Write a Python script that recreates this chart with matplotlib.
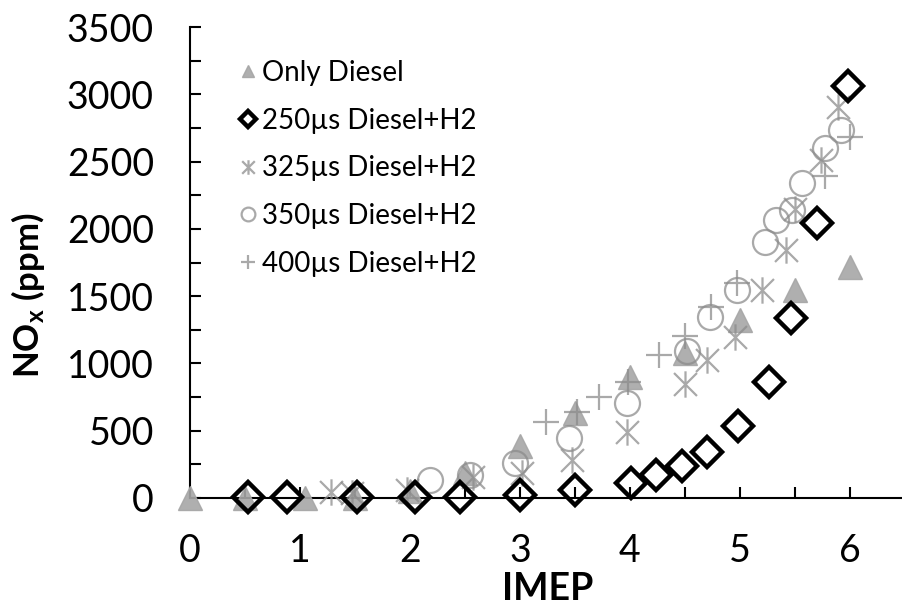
import matplotlib.pyplot as plt
from matplotlib.path import Path
from matplotlib.ticker import MultipleLocator

plt.rcParams['font.family'] = ['Lato', 'DejaVu Sans']
plt.rcParams['mathtext.fontset'] = 'custom'
plt.rcParams['mathtext.rm'] = 'Lato'
plt.rcParams['mathtext.bf'] = 'Lato:bold'

# Only Diesel
diesel_x = [0.0, 0.5, 1.05, 1.5, 2.0, 2.5, 3.0, 3.5, 4.0, 4.5, 5.0, 5.5, 6.0]
diesel_y = [0, 0, 0, 0, 50, 185, 385, 630, 900, 1075, 1325, 1545, 1715]

# 250us Diesel+H2
d250_x = [0.53, 0.88, 1.52, 2.05, 2.45, 3.0, 3.5, 4.01, 4.24, 4.47, 4.70, 4.98, 5.26, 5.46, 5.70, 5.98]
d250_y = [5, 5, 5, 5, 5, 20, 60, 110, 170, 235, 340, 535, 865, 1340, 2040, 3060]

# 325us Diesel+H2
d325_x = [1.28, 1.47, 1.97, 2.57, 3.02, 3.47, 3.97, 4.5, 4.70, 4.95, 5.20, 5.42, 5.5, 5.74, 5.89]
d325_y = [45, 40, 60, 157, 183, 282, 493, 845, 1025, 1195, 1545, 1840, 2150, 2510, 2905]

# 350us Diesel+H2
d350_x = [2.18, 2.55, 2.95, 3.45, 3.97, 4.52, 4.73, 4.97, 5.23, 5.33, 5.47, 5.56, 5.77, 5.92]
d350_y = [135, 170, 260, 445, 705, 1095, 1345, 1545, 1905, 2065, 2140, 2340, 2600, 2735]

# 400us Diesel+H2
d400_x = [3.24, 3.52, 3.72, 3.98, 4.26, 4.5, 4.74, 4.97, 5.77, 6.0]
d400_y = [567, 640, 750, 865, 1065, 1205, 1420, 1595, 2390, 2685]

# asterisk marker: X plus a vertical bar
asterisk = Path([(-1, -1), (1, 1), (-1, 1), (1, -1), (0, -1.15), (0, 1.15)],
                [Path.MOVETO, Path.LINETO, Path.MOVETO, Path.LINETO, Path.MOVETO, Path.LINETO])

gray = '#8c8c8c'

fig = plt.figure(figsize=(9.03, 6.04), dpi=100)
ax = fig.add_axes([190 / 903, 1 - 498 / 604, 715 / 903, 471 / 604])

ax.plot(diesel_x, diesel_y, ls='none', marker='^', ms=17, mfc='#a6a6a6', mec='#a6a6a6',
        alpha=0.9, clip_on=False, zorder=3, label='Only Diesel')
ax.plot(d250_x, d250_y, ls='none', marker='D', ms=15, mfc='none', mec='black', mew=3.2,
        clip_on=False, zorder=6, label='250µs Diesel+H2')
ax.plot(d325_x, d325_y, ls='none', marker=asterisk, ms=19, mfc='none', mec=gray, mew=1.6,
        alpha=0.75, clip_on=False, zorder=4, label='325µs Diesel+H2')
ax.plot(d350_x, d350_y, ls='none', marker='o', ms=18, mfc='none', mec=gray, mew=1.6,
        alpha=0.75, clip_on=False, zorder=4, label='350µs Diesel+H2')
ax.plot(d400_x, d400_y, ls='none', marker='+', ms=19, mfc='none', mec=gray, mew=1.6,
        alpha=0.75, clip_on=False, zorder=4, label='400µs Diesel+H2')

ax.set_xlim(0, 6.5)
ax.set_ylim(0, 3500)
ax.xaxis.set_major_locator(MultipleLocator(1))
ax.xaxis.set_minor_locator(MultipleLocator(0.5))
ax.yaxis.set_major_locator(MultipleLocator(500))
ax.yaxis.set_minor_locator(MultipleLocator(250))
ax.tick_params(which='both', direction='in', length=8, width=1.5, labelsize=27)
ax.tick_params(axis='x', which='major', pad=25)
ax.tick_params(axis='y', which='major', pad=26)

for side in ['top', 'right']:
    ax.spines[side].set_visible(False)
for side in ['left', 'bottom']:
    ax.spines[side].set_linewidth(1.5)

ax.set_xlabel('IMEP', fontsize=27, fontweight='bold', labelpad=2)
ax.set_ylabel(r'$\mathbf{NO_x}$ (ppm)', fontsize=25, fontweight='bold')
ax.yaxis.set_label_coords(-0.2, 0.43)

ax.legend(loc='upper left', bbox_to_anchor=(0.064, 0.93), frameon=False, fontsize=20,
          markerscale=0.55, handlelength=0.9, handletextpad=0.05, labelspacing=0.78,
          borderpad=0, borderaxespad=0)

fig.savefig('out.png', dpi=100)
